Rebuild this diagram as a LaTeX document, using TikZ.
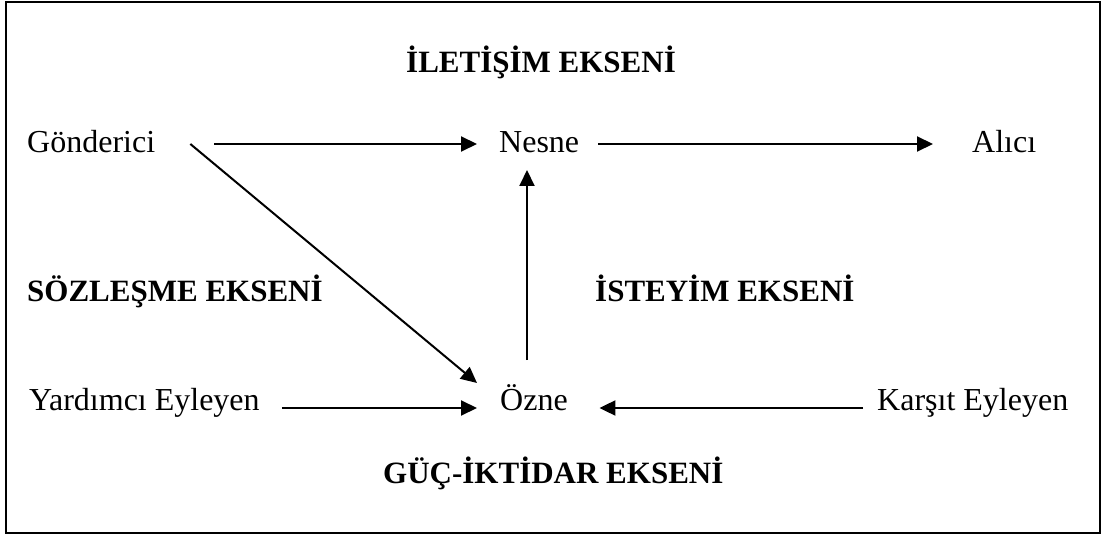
\documentclass[tikz,border=0pt]{standalone}
\usepackage{fontspec}
\setmainfont{Liberation Serif}
\usetikzlibrary{arrows.meta}
\begin{document}
\begin{tikzpicture}[x=1pt,y=1pt,
  lbl/.style={inner sep=0pt,anchor=base west,font=\fontsize{32}{38}\selectfont},
  hdr/.style={lbl,font=\fontsize{31}{37}\selectfont\bfseries},
  arr/.style={line width=2pt,-{Triangle[length=16pt,width=15pt]}}]
\useasboundingbox (0,0) rectangle (1105,536);
\draw[line width=2pt] (6,3) rectangle (1100,534);
% headings
\node[hdr] (ilet) at (406,463) {İLETİŞİM EKSENİ};
\node[hdr] (soz) at (27,234) {SÖZLEŞME EKSENİ};
\node[hdr] (ist) at (595,234) {İSTEYİM EKSENİ};
\node[hdr] (guc) at (383,53) {GÜÇ-İKTİDAR EKSENİ};
% actants
\node[lbl] (gond) at (27,383) {Gönderici};
\node[lbl] (nesne) at (499,383) {Nesne};
\node[lbl] (alici) at (972,383) {Alıcı};
\node[lbl] (yard) at (29,126) {Yardımcı Eyleyen};
\node[lbl] (ozne) at (500,126) {Özne};
\node[lbl] (kars) at (877,126) {Karşıt Eyleyen};
% arrows
\draw[arr] ([xshift=59pt,yshift=9pt]gond.base east) -- ([xshift=-22pt,yshift=9pt]nesne.base west);
\draw[arr] ([xshift=19pt,yshift=9pt]nesne.base east) -- ([xshift=-39pt,yshift=9pt]alici.base west);
\draw[arr] ([xshift=35pt,yshift=9pt]gond.base east) -- ([xshift=-23pt,yshift=27pt]ozne.base west);
\draw[arr] ([xshift=27pt,yshift=50pt]ozne.base west) -- ([xshift=27pt,yshift=-17pt]ozne.base west |- nesne.base west);
\draw[arr] ([xshift=22pt,yshift=2pt]yard.base east) -- ([xshift=-23pt,yshift=2pt]ozne.base west);
\draw[arr] ([xshift=-14pt,yshift=2pt]kars.base west) -- ([xshift=31.5pt,yshift=2pt]ozne.base east);
\end{tikzpicture}
\end{document}
